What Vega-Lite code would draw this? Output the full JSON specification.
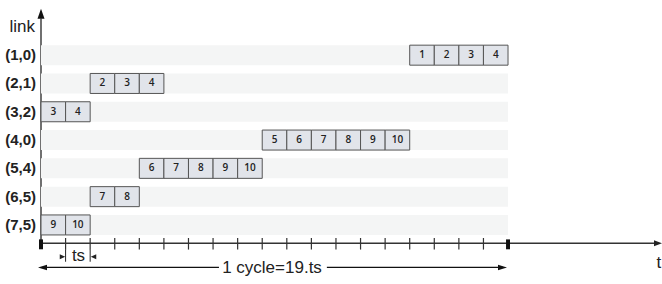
{
  "$schema": "https://vega.github.io/schema/vega-lite/v6.json",
  "width": 662,
  "height": 284,
  "autosize": {"type": "fit", "contains": "padding"},
  "padding": 0,
  "background": "white",
  "config": {"view": {"stroke": null}, "font": "Liberation Sans"},
  "datasets": {
    "rows": [
      {"link": "(1,0)", "r": 1},
      {"link": "(2,1)", "r": 2},
      {"link": "(3,2)", "r": 3},
      {"link": "(4,0)", "r": 4},
      {"link": "(5,4)", "r": 5},
      {"link": "(6,5)", "r": 6},
      {"link": "(7,5)", "r": 7}
    ],
    "cells": [
      {"r": 1, "t0": 15, "t1": 16, "n": "1"},
      {"r": 1, "t0": 16, "t1": 17, "n": "2"},
      {"r": 1, "t0": 17, "t1": 18, "n": "3"},
      {"r": 1, "t0": 18, "t1": 19, "n": "4"},
      {"r": 2, "t0": 2, "t1": 3, "n": "2"},
      {"r": 2, "t0": 3, "t1": 4, "n": "3"},
      {"r": 2, "t0": 4, "t1": 5, "n": "4"},
      {"r": 3, "t0": 0, "t1": 1, "n": "3"},
      {"r": 3, "t0": 1, "t1": 2, "n": "4"},
      {"r": 4, "t0": 9, "t1": 10, "n": "5"},
      {"r": 4, "t0": 10, "t1": 11, "n": "6"},
      {"r": 4, "t0": 11, "t1": 12, "n": "7"},
      {"r": 4, "t0": 12, "t1": 13, "n": "8"},
      {"r": 4, "t0": 13, "t1": 14, "n": "9"},
      {"r": 4, "t0": 14, "t1": 15, "n": "10"},
      {"r": 5, "t0": 4, "t1": 5, "n": "6"},
      {"r": 5, "t0": 5, "t1": 6, "n": "7"},
      {"r": 5, "t0": 6, "t1": 7, "n": "8"},
      {"r": 5, "t0": 7, "t1": 8, "n": "9"},
      {"r": 5, "t0": 8, "t1": 9, "n": "10"},
      {"r": 6, "t0": 2, "t1": 3, "n": "7"},
      {"r": 6, "t0": 3, "t1": 4, "n": "8"},
      {"r": 7, "t0": 0, "t1": 1, "n": "9"},
      {"r": 7, "t0": 1, "t1": 2, "n": "10"}
    ],
    "ticks": [
      {"s": 1}, {"s": 2}, {"s": 3}, {"s": 4}, {"s": 5}, {"s": 6}, {"s": 7}, {"s": 8}, {"s": 9},
      {"s": 10}, {"s": 11}, {"s": 12}, {"s": 13}, {"s": 14}, {"s": 15}, {"s": 16}, {"s": 17}, {"s": 18}
    ],
    "ends": [{"s": 0}, {"s": 19}],
    "one": [{}]
  },
  "encoding": {
    "x": {"type": "quantitative", "axis": null, "scale": {"domain": [-1.668, 25.264], "nice": false, "zero": false}},
    "y": {"type": "quantitative", "axis": null, "scale": {"domain": [-0.773, 8.91], "reverse": true, "nice": false, "zero": false}}
  },
  "layer": [
    {
      "data": {"name": "one"},
      "mark": {"type": "rule", "stroke": "#111", "strokeWidth": 1.2},
      "encoding": {
        "x": {"datum": 0, "type": "quantitative"},
        "y": {"datum": -0.3, "type": "quantitative"},
        "y2": {"datum": 7.648}
      }
    },
    {
      "data": {"name": "one"},
      "mark": {"type": "point", "shape": "M0,-1L0.7,1L-0.7,1Z", "size": 100, "filled": true, "color": "#111", "opacity": 1},
      "encoding": {
        "x": {"datum": 0, "type": "quantitative"},
        "y": {"datum": -0.466, "type": "quantitative"}
      }
    },
    {
      "data": {"name": "one"},
      "mark": {"type": "text", "text": "link", "align": "right", "baseline": "middle", "fontSize": 17, "color": "#222"},
      "encoding": {
        "x": {"datum": -0.244, "type": "quantitative"},
        "y": {"datum": 0.011, "type": "quantitative"}
      }
    },
    {
      "data": {"name": "rows"},
      "mark": {"type": "bar", "size": 20, "color": "#f4f5f5"},
      "encoding": {
        "x": {"datum": 0, "type": "quantitative"},
        "x2": {"datum": 19},
        "y": {"field": "r", "type": "quantitative"}
      }
    },
    {
      "data": {"name": "one"},
      "mark": {"type": "rule", "stroke": "#333", "strokeWidth": 1.5},
      "encoding": {
        "x": {"datum": -0.05, "type": "quantitative"},
        "x2": {"datum": 24.98},
        "y": {"datum": 7.648, "type": "quantitative"}
      }
    },
    {
      "data": {"name": "ticks"},
      "mark": {"type": "rule", "stroke": "#333", "strokeWidth": 1.2},
      "encoding": {
        "x": {"field": "s", "type": "quantitative"},
        "y": {"datum": 7.46, "type": "quantitative"},
        "y2": {"datum": 7.87}
      }
    },
    {
      "data": {"name": "ends"},
      "mark": {"type": "rule", "stroke": "#111", "strokeWidth": 4},
      "encoding": {
        "x": {"field": "s", "type": "quantitative"},
        "y": {"datum": 7.51, "type": "quantitative"},
        "y2": {"datum": 7.86}
      }
    },
    {
      "data": {"name": "one"},
      "mark": {"type": "point", "shape": "M1,0L-1,-0.75L-1,0.75Z", "size": 64, "filled": true, "color": "#222", "opacity": 1},
      "encoding": {
        "x": {"datum": 25.1, "type": "quantitative"},
        "y": {"datum": 7.648, "type": "quantitative"}
      }
    },
    {
      "data": {"name": "one"},
      "mark": {"type": "text", "text": "t", "align": "center", "baseline": "alphabetic", "fontSize": 17, "color": "#222"},
      "encoding": {
        "x": {"datum": 25.14, "type": "quantitative"},
        "y": {"datum": 8.535, "type": "quantitative"}
      }
    },
    {
      "data": {"name": "one"},
      "mark": {"type": "rule", "stroke": "#222", "strokeWidth": 1},
      "encoding": {
        "x": {"datum": 1, "type": "quantitative"},
        "y": {"datum": 7.86, "type": "quantitative"},
        "y2": {"datum": 8.3}
      }
    },
    {
      "data": {"name": "one"},
      "mark": {"type": "rule", "stroke": "#222", "strokeWidth": 1},
      "encoding": {
        "x": {"datum": 2, "type": "quantitative"},
        "y": {"datum": 7.86, "type": "quantitative"},
        "y2": {"datum": 8.3}
      }
    },
    {
      "data": {"name": "one"},
      "mark": {"type": "point", "shape": "M1,0L-1,-0.9L-1,0.9Z", "size": 30, "filled": true, "color": "#222", "opacity": 1},
      "encoding": {
        "x": {"datum": 0.875, "type": "quantitative"},
        "y": {"datum": 8.126, "type": "quantitative"}
      }
    },
    {
      "data": {"name": "one"},
      "mark": {"type": "point", "shape": "M-1,0L1,-0.9L1,0.9Z", "size": 30, "filled": true, "color": "#222", "opacity": 1},
      "encoding": {
        "x": {"datum": 2.136, "type": "quantitative"},
        "y": {"datum": 8.126, "type": "quantitative"}
      }
    },
    {
      "data": {"name": "one"},
      "mark": {"type": "text", "text": "ts", "align": "center", "baseline": "alphabetic", "fontSize": 17, "color": "#222"},
      "encoding": {
        "x": {"datum": 1.526, "type": "quantitative"},
        "y": {"datum": 8.262, "type": "quantitative"}
      }
    },
    {
      "data": {"name": "one"},
      "mark": {"type": "rule", "stroke": "#111", "strokeWidth": 1.2},
      "encoding": {
        "x": {"datum": 0.1, "type": "quantitative"},
        "x2": {"datum": 7.24},
        "y": {"datum": 8.501, "type": "quantitative"}
      }
    },
    {
      "data": {"name": "one"},
      "mark": {"type": "rule", "stroke": "#111", "strokeWidth": 1.2},
      "encoding": {
        "x": {"datum": 11.63, "type": "quantitative"},
        "x2": {"datum": 18.8},
        "y": {"datum": 8.501, "type": "quantitative"}
      }
    },
    {
      "data": {"name": "one"},
      "mark": {"type": "point", "shape": "M-1,0L1,-0.6L1,0.6Z", "size": 81, "filled": true, "color": "#111", "opacity": 1},
      "encoding": {
        "x": {"datum": 0.061, "type": "quantitative"},
        "y": {"datum": 8.501, "type": "quantitative"}
      }
    },
    {
      "data": {"name": "one"},
      "mark": {"type": "point", "shape": "M1,0L-1,-0.6L-1,0.6Z", "size": 81, "filled": true, "color": "#111", "opacity": 1},
      "encoding": {
        "x": {"datum": 18.775, "type": "quantitative"},
        "y": {"datum": 8.501, "type": "quantitative"}
      }
    },
    {
      "data": {"name": "one"},
      "mark": {"type": "text", "text": "1 cycle=19.ts", "align": "center", "baseline": "alphabetic", "fontSize": 17, "color": "#222"},
      "encoding": {
        "x": {"datum": 9.398, "type": "quantitative"},
        "y": {"datum": 8.682, "type": "quantitative"}
      }
    },
    {
      "data": {"name": "rows"},
      "mark": {"type": "text", "align": "right", "baseline": "middle", "fontSize": 15, "fontWeight": "bold", "color": "#222"},
      "encoding": {
        "x": {"datum": -0.203, "type": "quantitative"},
        "y": {"field": "r", "type": "quantitative"},
        "text": {"field": "link"}
      }
    },
    {
      "data": {"name": "cells"},
      "mark": {"type": "bar", "size": 20, "fill": "#e1e4ea", "stroke": "#555", "strokeWidth": 1},
      "encoding": {
        "x": {"field": "t0", "type": "quantitative"},
        "x2": {"field": "t1"},
        "y": {"field": "r", "type": "quantitative"}
      }
    },
    {
      "data": {"name": "cells"},
      "transform": [{"calculate": "(datum.t0 + datum.t1) / 2", "as": "mid"}],
      "mark": {"type": "text", "align": "center", "baseline": "middle", "font": "Open Sans", "fontSize": 10, "fontWeight": 600, "color": "#222"},
      "encoding": {
        "x": {"field": "mid", "type": "quantitative"},
        "y": {"field": "r", "type": "quantitative"},
        "text": {"field": "n"}
      }
    }
  ]
}
